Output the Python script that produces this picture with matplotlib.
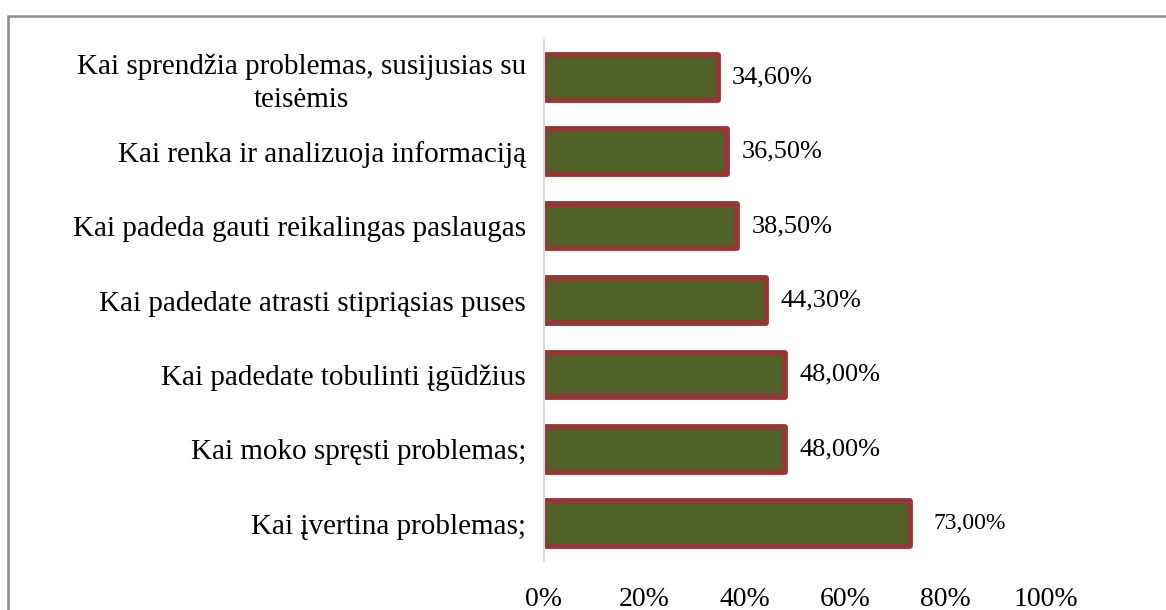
import matplotlib
matplotlib.use("Agg")
import matplotlib.pyplot as plt
from matplotlib.patches import Rectangle
from matplotlib.ticker import FuncFormatter

# data, top to bottom as in the chart
categories = [
    "Kai sprendžia problemas, susijusias su\nteisėmis",
    "Kai renka ir analizuoja informaciją",
    "Kai padeda gauti reikalingas paslaugas",
    "Kai padedate atrasti stipriąsias puses",
    "Kai padedate tobulinti įgūdžius",
    "Kai moko spręsti problemas;",
    "Kai įvertina problemas;",
]
values = [0.346, 0.365, 0.385, 0.443, 0.480, 0.480, 0.730]
value_labels = ["34,60%", "36,50%", "38,50%", "44,30%", "48,00%", "48,00%", "73,00%"]
xticks = [0, 0.2, 0.4, 0.6, 0.8, 1.0]

plt.rcParams['font.family'] = ['Liberation Serif', 'DejaVu Serif']

fig = plt.figure(figsize=(11.66, 6.10), dpi=100)
ax = fig.add_axes([544 / 1166, 1 - 561 / 610, 502 / 1166, 521 / 610])

ypos = list(range(len(categories)))
ax.barh(ypos, values, height=0.6, color='#4F6228', edgecolor='#953735',
        linewidth=4.2, joinstyle='round')

# value labels next to bars
for i, (v, lab) in enumerate(zip(values, value_labels)):
    if i == len(values) - 1:
        ax.text(v + 0.045, i, lab, va='center', ha='left', fontsize=17)
    else:
        ax.text(v + 0.028, i, lab, va='center', ha='left', fontsize=19)

ax.set_xlim(0, 1.0)
ax.set_ylim(len(categories) - 0.5, -0.5)
ax.set_yticks(ypos)
ax.set_yticklabels(categories, fontsize=21, multialignment='center', linespacing=1.35)
ax.set_xticks(xticks)
ax.xaxis.set_major_formatter(FuncFormatter(lambda x, p: f"{int(round(x * 100))}%"))
ax.tick_params(axis='x', labelsize=20, length=0, pad=19)
ax.tick_params(axis='y', length=0, pad=13)

for s in ['top', 'right', 'bottom']:
    ax.spines[s].set_visible(False)
ax.spines['left'].set_color('#D9D9D9')
ax.spines['left'].set_linewidth(1.5)

# outer border of the chart area
fig.patches.append(Rectangle((8 / 1166, -0.1), 1.2, 1 - 16 / 610 + 0.1,
                             transform=fig.transFigure, fill=False,
                             edgecolor='#8C8C8C', linewidth=1.8))

fig.savefig('out.png', dpi=100)
